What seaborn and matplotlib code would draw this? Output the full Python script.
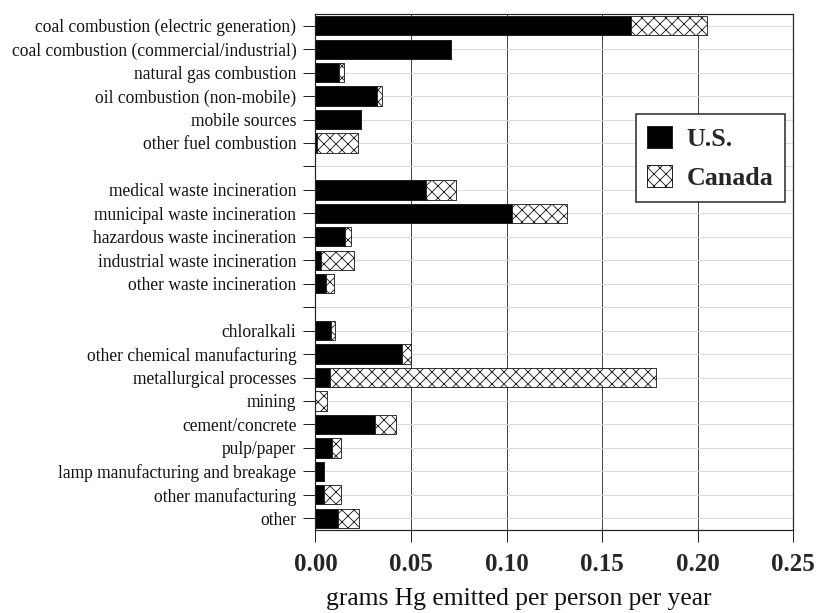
import numpy as np
import pandas as pd
import matplotlib
matplotlib.use("Agg")
import matplotlib.pyplot as plt
from matplotlib.patches import Patch
import seaborn as sns

# Emission sources, top to bottom (blank entries separate the groups)
sources = [
    "coal combustion (electric generation)",
    "coal combustion (commercial/industrial)",
    "natural gas combustion",
    "oil combustion (non-mobile)",
    "mobile sources",
    "other fuel combustion",
    " ",
    "medical waste incineration",
    "municipal waste incineration",
    "hazardous waste incineration",
    "industrial waste incineration",
    "other waste incineration",
    "  ",
    "chloralkali",
    "other chemical manufacturing",
    "metallurgical processes",
    "mining",
    "cement/concrete",
    "pulp/paper",
    "lamp manufacturing and breakage",
    "other manufacturing",
    "other",
]

# grams Hg emitted per person per year
us_values = [0.165, 0.071, 0.0123, 0.0324, 0.0238, 0.001, np.nan,
             0.058, 0.103, 0.0154, 0.0027, 0.0055, np.nan,
             0.0081, 0.0455, 0.0076, 0.0, 0.0312, 0.0088, 0.0045, 0.0045, 0.012]
canada_values = [0.040, 0.0, 0.0025, 0.0023, 0.0, 0.0214, np.nan,
                 0.0157, 0.0287, 0.0032, 0.0176, 0.0044, np.nan,
                 0.0021, 0.0045, 0.1707, 0.0059, 0.0109, 0.0044, 0.0, 0.009, 0.0109]

xtick_values = [0.00, 0.05, 0.10, 0.15, 0.20, 0.25]
xtick_labels = ["0.00", "0.05", "0.10", "0.15", "0.20", "0.25"]
series_names = ["U.S.", "Canada"]

df = pd.DataFrame({"source": sources, "us": us_values, "canada": canada_values})
df["total"] = df["us"] + df["canada"]

sns.set_style("white")
plt.rcParams["font.family"] = ["Liberation Serif", "DejaVu Serif"]
plt.rcParams["hatch.linewidth"] = 0.9
plt.rcParams["hatch.color"] = "#111111"

DPI = 72
fig = plt.figure(figsize=(819 / DPI, 613 / DPI), dpi=DPI)
ax = fig.add_axes([0.3852, 0.1354, 0.9683 - 0.3852, 0.9772 - 0.1354])

bar_kw = dict(order=sources, orient="h", width=0.82, saturation=1,
              errorbar=None, linewidth=0.9, ax=ax)

# Canada stacked after the U.S. share: draw the total cross-hatched, U.S. on top
sns.barplot(data=df, x="total", y="source", color="white",
            edgecolor="#222222", hatch="xx", **bar_kw)
sns.barplot(data=df, x="us", y="source", color="black",
            edgecolor="#222222", **bar_kw)

ax.set_xlim(0, 0.25)
ax.set_ylim(len(sources) - 0.5, -0.5)
ax.set_xticks(xtick_values)
ax.set_xticklabels(xtick_labels)
ax.set_yticks(range(len(sources)))
ax.set_yticklabels(sources)

ax.set_axisbelow(True)
ax.xaxis.grid(True, color="#444444", linewidth=1.0)
ax.yaxis.grid(True, color="#dadada", linewidth=1.0)

for spine in ax.spines.values():
    spine.set_visible(True)
    spine.set_color("#222222")
    spine.set_linewidth(1.2)

ax.tick_params(axis="y", direction="out", length=12, width=1.0,
               color="#222222", labelsize=17.5, pad=7, left=True)
ax.tick_params(axis="x", direction="out", length=12, width=1.0,
               color="#222222", labelsize=25, pad=11, bottom=True)
for lbl in ax.get_xticklabels():
    lbl.set_fontweight("bold")
for lbl in ax.get_yticklabels():
    lbl.set_color("#111111")

ax.set_ylabel("")
ax.set_xlabel("grams Hg emitted per person per year", fontsize=25.5,
              color="#111111")
ax.xaxis.set_label_coords(0.426, -0.112)

handles = [
    Patch(facecolor="black", edgecolor="#222222", label=series_names[0]),
    Patch(facecolor="white", edgecolor="#222222", hatch="xx", label=series_names[1]),
]
leg = ax.legend(handles=handles, loc="upper right", bbox_to_anchor=(0.983, 0.806),
                borderaxespad=0, frameon=True, fancybox=False, framealpha=1,
                prop={"weight": "bold", "size": 26}, handlelength=0.96,
                handleheight=0.92, handletextpad=0.55, labelspacing=0.55,
                borderpad=0.45)
leg.get_frame().set_edgecolor("#222222")
leg.get_frame().set_linewidth(1.5)

fig.savefig("out.png", dpi=DPI)
